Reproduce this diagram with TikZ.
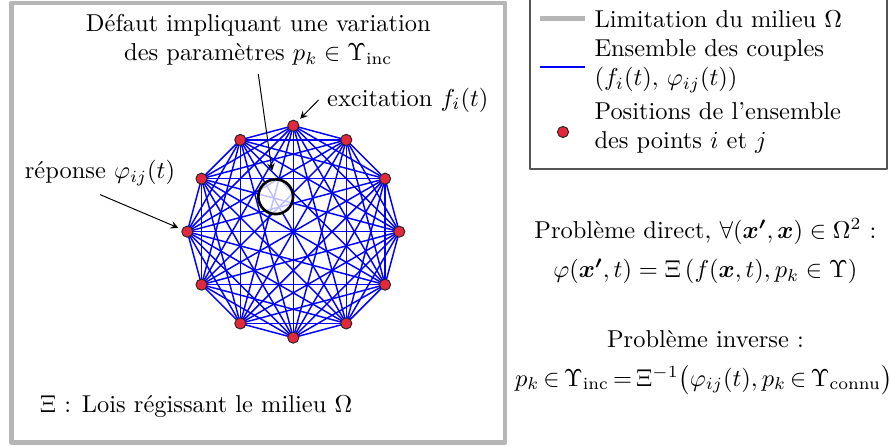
\documentclass[tikz,border=0pt]{standalone}
\usepackage{fontspec}
\usepackage{amsmath}
\usepackage{bm}
\usetikzlibrary{positioning}
\definecolor{pointrouge}{RGB}{228,40,60}
\definecolor{grislimite}{RGB}{182,182,182}
\definecolor{griscadre}{RGB}{85,85,85}
\tikzset{
  limite/.style={draw=grislimite, line width=2pt},
  couple/.style={draw=blue, line width=0.6pt},
  capteur/.style={circle, draw=black!85, fill=pointrouge, line width=0.4pt, minimum size=0.16cm, inner sep=0pt},
  defaut/.style={circle, draw=black, line width=1.1pt, fill=white, fill opacity=0.75, minimum size=0.5cm, inner sep=0pt},
  fleche/.style={->, thin},
  probleme/.style={inner sep=1pt},
}
\begin{document}
\begin{tikzpicture}[line join=round, >=stealth]
\useasboundingbox (0,0) rectangle (12.8,6.4);
%Cadre du milieu
\draw[limite] (0.165,0.036) rectangle (7.263,6.357);
%Réseau des points i et j
\coordinate (c) at (4.218,3.068);
\foreach \i in {0,...,11}
\coordinate (p\i) at ([shift={(\i*30:1.524)}]c);
\foreach \i in {0,...,10}{
  \pgfmathtruncatemacro{\s}{\i+1}
  \foreach \j in {\s,...,11}
  \draw[couple] (p\i) -- (p\j);
}
\node[defaut] (defaut) at ([shift={(-0.253,0.503)}]c) {};
\foreach \i in {0,...,11}
\node[capteur] (n\i) at (p\i) {};
%Textes et flèches
\node[align=center] (titre) at (3.715,5.825) {Défaut impliquant une variation\\des paramètres $p_k\in\Upsilon_{\text{inc}}$};
\node[anchor=west] (excit) at (4.581,4.962) {excitation $f_i(t)$};
\node (rep) at (1.438,3.908) {réponse $\varphi_{ij}(t)$};
\node[anchor=west] (lois) at (0.449,0.551) {$\Xi$ : Lois régissant le milieu $\Omega$};
\draw[fleche, shorten >=3pt] (titre.south) -- (defaut);
\draw[fleche, shorten >=1.5pt] (excit.west) -- (n3);
\draw[fleche, shorten >=1.5pt] (rep.south) -- (n6);
%Légende
\draw[draw=griscadre, line width=0.5pt] (7.622,3.969) rectangle (12.757,6.42);
\coordinate (l1a) at (7.766,6.134);
\coordinate (l1b) at (8.413,6.134);
\draw[limite] (l1a) -- (l1b);
\node[anchor=west] (leg1) at (8.426,6.127) {Limitation du milieu $\Omega$};
\coordinate (l2a) at (7.766,5.436);
\coordinate (l2b) at (8.413,5.436);
\draw[couple] (l2a) -- (l2b);
\node[anchor=west, align=left] (leg2) at (8.426,5.451) {Ensemble des couples\\$(f_i(t),\,\varphi_{ij}(t))$};
\node[capteur] (l3) at (8.097,4.502) {};
\node[anchor=west, align=left] (leg3) at (8.426,4.559) {Positions de l’ensemble\\des points $i$ et $j$};
%Problèmes direct et inverse
\node[probleme] (direct1) at (10.146,3.068) {Problème direct, $\forall(\bm{x'},\bm{x})\in\Omega^2$ :};
\node[probleme] (direct2) at (10.146,2.493) {$\varphi(\bm{x'},t)=\Xi\left(f(\bm{x},t),p_k\in\Upsilon\right)$};
\node[probleme] (inverse1) at (10.146,1.52) {Problème inverse :};
\node[probleme] (inverse2) at (10.12,0.935) {$\thickmuskip=3mu p_k\in\Upsilon_{\text{inc}}=\Xi^{-1}\bigl(\varphi_{ij}(t),p_k\in\Upsilon_{\text{connu}}\bigr)$};
\end{tikzpicture}
\end{document}
